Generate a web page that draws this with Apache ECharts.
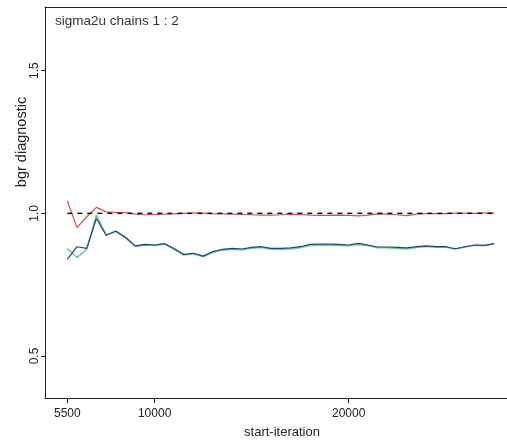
<!DOCTYPE html>
<html>
<head>
<meta charset="utf-8">
<script src="https://cdn.jsdelivr.net/npm/echarts@6/dist/echarts.min.js"></script>
<style>html,body{margin:0;padding:0;background:#fff}#c{width:507px;height:444px}</style>
</head>
<body>
<div id="c"></div>
<script>
// start iterations (every 500 from 5500 to 27500)
const iterations = [5500,6000,6500,7000,7500,8000,8500,9000,9500,10000,10500,11000,11500,12000,12500,13000,13500,14000,14500,15000,15500,16000,16500,17000,17500,18000,18500,19000,19500,20000,20500,21000,21500,22000,22500,23000,23500,24000,24500,25000,25500,26000,26500,27000,27500];
// red: ratio
const ratioR = [1.043,0.950,0.988,1.021,1.005,1.003,1.003,0.997,0.995,0.996,0.997,0.998,1.000,1.002,1.001,0.999,0.998,0.997,0.996,0.995,0.994,0.994,0.995,0.997,0.996,0.994,0.993,0.993,0.994,0.993,0.991,0.994,0.998,0.997,0.995,0.992,0.997,0.999,0.999,0.999,1.001,1.001,1.000,1.002,1.001];
// green: pooled width
const pooled = [0.877,0.845,0.874,0.994,0.924,0.936,0.914,0.884,0.889,0.887,0.892,0.875,0.854,0.858,0.848,0.863,0.871,0.874,0.872,0.878,0.880,0.874,0.873,0.875,0.879,0.887,0.888,0.888,0.887,0.886,0.891,0.886,0.879,0.879,0.877,0.875,0.880,0.884,0.881,0.881,0.875,0.882,0.888,0.887,0.893];
// blue: within width
const within = [0.839,0.883,0.877,0.982,0.923,0.938,0.916,0.886,0.891,0.889,0.894,0.877,0.856,0.860,0.850,0.866,0.874,0.877,0.875,0.881,0.883,0.877,0.877,0.879,0.883,0.891,0.892,0.892,0.891,0.889,0.895,0.889,0.882,0.882,0.881,0.879,0.883,0.886,0.883,0.883,0.876,0.883,0.889,0.888,0.894];
const refLine = [1, 1];
const xTicks = [5500, 10000, 20000];
const yTicks = [0.5, 1.0, 1.5];

const zip = (xs, ys) => xs.map((x, i) => [x, ys[i]]);
const chart = echarts.init(document.getElementById('c'));
const font = 'Liberation Sans, Arial, sans-serif';
const ink = '#222';
chart.setOption({
  animation: false,
  backgroundColor: '#fff',
  title: {
    text: 'sigma2u chains 1 : 2', left: 50, top: 9,
    textStyle: {fontFamily: font, fontSize: 13.5, fontWeight: 'normal', color: '#333'}
  },
  grid: {left: 45, top: 7, bottom: 46, right: 0},
  xAxis: [{
    type: 'value', min: 4350, max: 28160,
    axisLine: {show: true, lineStyle: {color: ink, width: 1}},
    splitLine: {show: false},
    axisTick: {show: true, length: 5, customValues: xTicks, lineStyle: {color: ink}},
    axisLabel: {customValues: xTicks, margin: 10, fontFamily: font, fontSize: 12, color: ink,
      formatter: v => String(v)}
  }, {
    type: 'value', position: 'top', min: 4350, max: 28160,
    axisLine: {show: true, onZero: false, lineStyle: {color: ink, width: 1}},
    axisTick: {show: false}, axisLabel: {show: false}, splitLine: {show: false}
  }],
  yAxis: {
    type: 'value', min: 0.3527, max: 1.7233,
    axisLine: {show: true, lineStyle: {color: ink, width: 1}},
    splitLine: {show: false},
    axisTick: {show: true, length: 4, customValues: yTicks, lineStyle: {color: ink}},
    axisLabel: {customValues: yTicks, rotate: 90, margin: 4, fontFamily: font, fontSize: 12, color: ink,
      formatter: v => v.toFixed(1)}
  },
  graphic: [
    {type: 'text', x: 22, y: 142, rotation: Math.PI / 2,
      style: {text: 'bgr diagnostic', fontFamily: font, fontSize: 14.5, fill: ink, align: 'center', verticalAlign: 'middle'}},
    {type: 'text', x: 282, y: 432,
      style: {text: 'start-iteration', fontFamily: font, fontSize: 13, fill: ink, align: 'center', verticalAlign: 'middle'}}
  ],
  series: [
    {type: 'line', data: zip(iterations, pooled), symbol: 'none', lineStyle: {color: '#66d08e', width: 1.5}},
    {type: 'line', data: zip(iterations, within), symbol: 'none', lineStyle: {color: '#2b3a8c', width: 1.2}},
    {type: 'line', data: zip(iterations, ratioR), symbol: 'none', lineStyle: {color: '#d25252', width: 1.2}},
    {type: 'line', data: zip([iterations[0], iterations[iterations.length - 1]], refLine), symbol: 'none',
      lineStyle: {color: '#111', width: 1.5, type: [5, 5]}}
  ]
});
</script>
</body>
</html>
